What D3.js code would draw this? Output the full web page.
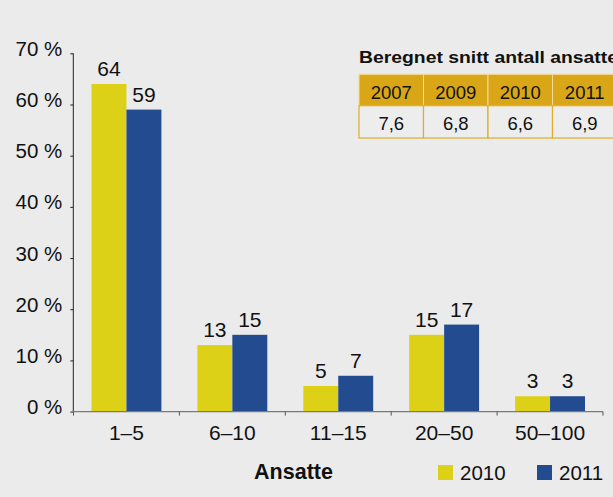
<!DOCTYPE html>
<html>
<head>
<meta charset="utf-8">
<script src="https://cdn.jsdelivr.net/npm/d3@7"></script>
<style>
html,body{margin:0;padding:0;background:#ebebeb;overflow:hidden;}
svg{display:block;font-family:"Liberation Sans",Arial,sans-serif;}
</style>
</head>
<body>
<svg id="chart" width="613" height="497"></svg>
<script>
const categories = ["1–5", "6–10", "11–15", "20–50", "50–100"];
const series = ["2010", "2011"];
const values2010 = [64, 13, 5, 15, 3];
const values2011 = [59, 15, 7, 17, 3];
const yTicks = [0, 10, 20, 30, 40, 50, 60, 70];
const tableTitle = "Beregnet snitt antall ansatte";
const tableYears = ["2007", "2009", "2010", "2011"];
const tableValues = ["7,6", "6,8", "6,6", "6,9"];
const xTitle = "Ansatte";

const colors = {"2010": "#dcd117", "2011": "#234b8f"};
const svg = d3.select("#chart");
svg.append("rect").attr("width", 613).attr("height", 497).attr("fill", "#ebebeb");

const x0 = d3.scaleBand().domain(categories).range([73.5, 603]).padding(0);
const x1 = d3.scaleBand().domain(series)
  .range([x0.bandwidth() * 0.17, x0.bandwidth() * 0.83]).padding(0);
const y = d3.scaleLinear().domain([0, 70]).range([411.6, 53.3]);

const data = categories.map((c, i) => ({cat: c, vals: [
  {s: "2010", v: values2010[i]}, {s: "2011", v: values2011[i]}]}));

// bars
const g = svg.append("g");
const grp = g.selectAll("g.grp").data(data).join("g")
  .attr("transform", d => `translate(${x0(d.cat)},0)`);
grp.selectAll("rect").data(d => d.vals).join("rect")
  .attr("x", d => x1(d.s))
  .attr("y", d => y(d.v))
  .attr("width", x1.bandwidth())
  .attr("height", d => y(0) - y(d.v))
  .attr("fill", d => colors[d.s]);
grp.selectAll("text").data(d => d.vals).join("text")
  .attr("x", d => x1(d.s) + x1.bandwidth() / 2)
  .attr("y", d => y(d.v) - 8)
  .attr("text-anchor", "middle")
  .attr("font-size", 21)
  .attr("fill", "#111")
  .text(d => d.v);

// y axis
const yAxis = d3.axisLeft(y).tickValues(yTicks).tickSize(3).tickFormat(d => d + " %");
const ya = svg.append("g").attr("transform", "translate(73.3,0)").call(yAxis);
ya.select(".domain").attr("stroke", "#222").attr("d", `M0,${y(70)}V${y(0)}`);
ya.selectAll(".tick line").attr("stroke", "#222");
ya.selectAll(".tick text").attr("font-size", 20.5).attr("fill", "#111")
  .attr("font-family", "Liberation Sans, Arial, sans-serif")
  .attr("x", -11).attr("dy", "0.1em");

// x axis
const xa = svg.append("g").attr("transform", `translate(0,${y(0)})`);
xa.append("line").attr("x1", 73.5).attr("x2", 603).attr("y1", 0).attr("y2", 0)
  .attr("stroke", "#7a7a7a").attr("stroke-width", 1.2);
const bounds = categories.map(c => x0(c)).concat([x0.range()[1]]);
xa.selectAll("line.tk").data(bounds).join("line").attr("class", "tk")
  .attr("x1", d => d).attr("x2", d => d).attr("y1", 0).attr("y2", 4)
  .attr("stroke", "#555");
xa.selectAll("text.lbl").data(categories).join("text").attr("class", "lbl")
  .attr("x", d => x0(d) + x0.bandwidth() / 2)
  .attr("y", 28.5)
  .attr("text-anchor", "middle")
  .attr("font-size", 21)
  .attr("fill", "#111")
  .text(d => d);

// x title
svg.append("text").attr("x", 293.5).attr("y", 479.3).attr("text-anchor", "middle")
  .attr("font-size", 21.5).attr("font-weight", "bold").attr("fill", "#111").text(xTitle);

// legend
const legX = [438, 537];
series.forEach((s, i) => {
  svg.append("rect").attr("x", legX[i]).attr("y", 465).attr("width", 15).attr("height", 15)
    .attr("fill", colors[s]);
  svg.append("text").attr("x", legX[i] + 22).attr("y", 479.5)
    .attr("font-size", 20.5).attr("fill", "#111").text(s);
});

// table
const tx = d3.scaleBand().domain(tableYears).range([359, 359 + 64.5 * 4]).padding(0);
svg.append("text").attr("x", 359).attr("y", 63).attr("font-size", 16).attr("font-weight", "bold")
  .attr("fill", "#111").attr("textLength", 259).attr("lengthAdjust", "spacingAndGlyphs")
  .text(tableTitle);
const tg = svg.append("g");
tg.selectAll("rect.h").data(tableYears).join("rect").attr("class", "h")
  .attr("x", d => tx(d)).attr("y", 74.3).attr("width", tx.bandwidth()).attr("height", 31.4)
  .attr("fill", "#d9a617").attr("stroke", "#f3dc9a").attr("stroke-width", 1);
tg.selectAll("rect.v").data(tableYears).join("rect").attr("class", "v")
  .attr("x", d => tx(d)).attr("y", 105.7).attr("width", tx.bandwidth()).attr("height", 32.3)
  .attr("fill", "#ededed").attr("stroke", "#e0ad2a").attr("stroke-width", 1.2);
tg.selectAll("text.h").data(tableYears).join("text").attr("class", "h")
  .attr("x", d => tx(d) + tx.bandwidth() / 2).attr("y", 98.5).attr("text-anchor", "middle")
  .attr("font-size", 18.5).attr("fill", "#111").text(d => d);
tg.selectAll("text.v").data(tableValues).join("text").attr("class", "v")
  .attr("x", (d, i) => tx(tableYears[i]) + tx.bandwidth() / 2).attr("y", 129.5)
  .attr("text-anchor", "middle").attr("font-size", 18.5).attr("fill", "#111").text(d => d);
</script>
</body>
</html>
